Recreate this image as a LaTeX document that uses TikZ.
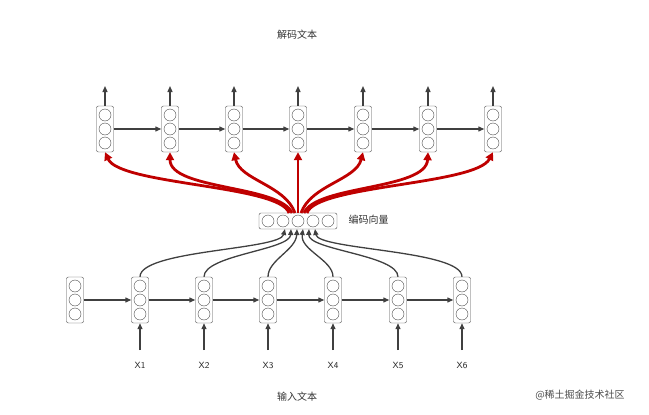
\documentclass[tikz,border=0pt]{standalone}
\usepackage{fontspec}
\newfontfamily\cjk{Noto Sans CJK SC}
\usetikzlibrary{arrows.meta}
\begin{document}
\begin{tikzpicture}[x=1pt,y=-1pt,
  cellbox/.style={draw=black!70,rounded corners=2pt,minimum width=17pt,minimum height=46pt,inner sep=0pt,fill=white},
  circ/.style={draw=black!70,circle,minimum size=12pt,inner sep=0pt,fill=white},
  garrow/.style={draw=black!75,line width=1.3pt,-{Triangle[length=6pt,width=5pt]}},
  rarrow/.style={draw=red!75!black,line width=2.8pt,-{Triangle[length=8pt,width=8pt]}},
  lab/.style={font=\cjk\fontsize{10}{12}\selectfont,text=black!80}]
\useasboundingbox (0,0) rectangle (649,415);
% top cells
\foreach \i/\x in {1/105,2/170,3/234,4/298,5/363,6/428,7/493}{
  \node[cellbox] (t\i) at (\x,129) {};
  \foreach \k/\dy in {a/-14,b/0,c/14} \node[circ] (t\i\k) at (\x,129+\dy) {};
  \coordinate (u\i) at (\x,86);
  \draw[garrow] (t\i.north) -- (u\i);
}
\foreach \i [evaluate=\i as \j using int(\i+1)] in {1,...,6}
  \draw[garrow] (t\i.east) -- (t\j.west);
% bottom cells
\foreach \i/\x in {0/75,1/140,2/204,3/268,4/333,5/398,6/462}{
  \node[cellbox] (b\i) at (\x,300) {};
  \foreach \k/\dy in {a/-14,b/0,c/14} \node[circ] at (\x,300+\dy) {};
}
\foreach \i [evaluate=\i as \j using int(\i+1)] in {0,...,5}
  \draw[garrow] (b\i.east) -- (b\j.west);
\foreach \i/\x in {1/140,2/204,3/268,4/333,5/398,6/462}{
  \coordinate (in\i) at (\x,350);
  \draw[garrow] (in\i) -- (b\i.south);
  \node[font=\sffamily\fontsize{9}{11}\selectfont,text=black!85] (xl\i) at (\x,365) {X\i};
}
% encoder
\node[cellbox,minimum width=78pt,minimum height=16pt] (enc) at (298,221) {};
\foreach \k/\dx in {1/-30,2/-15,3/0,4/15,5/30} \node[circ] (e\k) at (298+\dx,221) {};
\node[lab,anchor=west] (enclab) at (345,220) {编码向量};
% gray arrows into encoder
\foreach \i/\ex in {1/285,2/291,3/297,4/303,5/309,6/315}{
  \coordinate (ee\i) at (\ex,229);
}
\draw[garrow] (b1.north) .. controls (140,250) and (280,250) .. (ee1);
\draw[garrow] (b2.north) .. controls (204,255) and (290,250) .. (ee2);
\draw[garrow] (b3.north) .. controls (268,260) and (296,250) .. (ee3);
\draw[garrow] (b4.north) .. controls (333,260) and (300,250) .. (ee4);
\draw[garrow] (b5.north) .. controls (398,255) and (308,250) .. (ee5);
\draw[garrow] (b6.north) .. controls (462,250) and (318,250) .. (ee6);
% red arrows
\foreach \i/\sx in {1/289,2/292,3/295,4/298,5/301,6/304,7/307}{
  \coordinate (rs\i) at (\sx,213);
}
\draw[rarrow] (rs1) .. controls (280,185) and (120,185) .. (t1.south);
\draw[rarrow] (rs2) .. controls (280,185) and (170,190) .. (t2.south);
\draw[rarrow] (rs3) .. controls (285,185) and (240,180) .. (t3.south);
\draw[rarrow] (rs4) -- (t4.south);
\draw[rarrow] (rs5) .. controls (311,185) and (356,180) .. (t5.south);
\draw[rarrow] (rs6) .. controls (316,185) and (426,190) .. (t6.south);
\draw[rarrow] (rs7) .. controls (316,185) and (476,185) .. (t7.south);
% labels
\node[lab] (title) at (297,35) {解码文本};
\node[lab] (inlab) at (297,397) {输入文本};
\node[font=\cjk\fontsize{10}{12}\selectfont,text=black!70] (wm) at (580,395) {@稀土掘金技术社区};
\end{tikzpicture}
\end{document}
